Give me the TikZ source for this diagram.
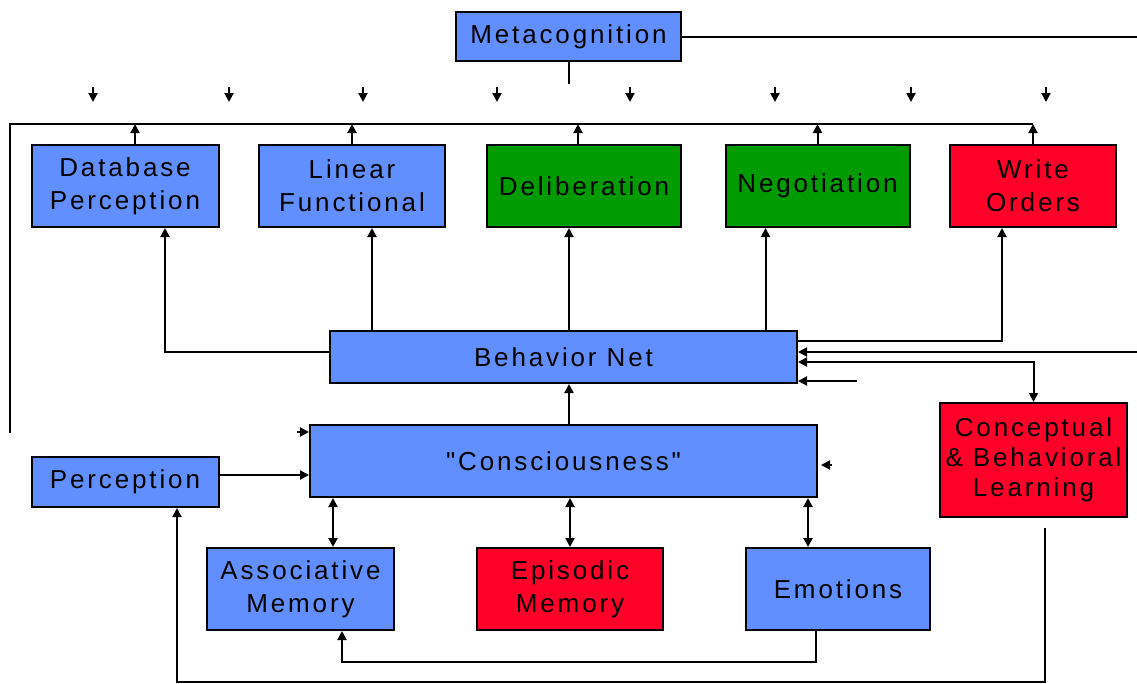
\documentclass[tikz,border=0pt]{standalone}
\usepackage{fontspec}
\setmainfont{Liberation Sans}[LetterSpace=11,Ligatures=TeXOff]
\usetikzlibrary{arrows.meta, positioning, calc}
\definecolor{BoxBlue}{RGB}{98,143,255}
\definecolor{BoxGreen}{RGB}{0,155,0}
\definecolor{BoxRed}{RGB}{255,0,40}
\tikzset{
  >={Triangle[length=9pt,width=9pt]},
  % Riquadri
  box/.style={draw=black,line width=2pt,inner sep=0pt,align=center,font=\fontsize{26}{33}\selectfont},
  box blue/.style={box,fill=BoxBlue},
  box green/.style={box,fill=BoxGreen},
  box red/.style={box,fill=BoxRed},
  % Connessioni
  connect/.style={line width=2pt,black},
  connect arrow/.style={->,connect},
  connect both/.style={<->,connect}
}
\begin{document}
\begin{tikzpicture}[x=1pt,y=-1pt]
    \useasboundingbox (0,0) rectangle (1137,683);
    % nodi
    \node[box blue,minimum width=225pt,minimum height=49pt] (meta) at (568.5,36.5) {Metacognition};
    \node[box blue,minimum width=187pt,minimum height=82pt] (dbp) at (125,186) {Database\\Perception};
    \node[box blue,minimum width=186pt,minimum height=82pt] (linf) at (352,186) {Linear\\Functional};
    \node[box green,minimum width=194pt,minimum height=82pt] (delib) at (584,186) {Deliberation};
    \node[box green,minimum width=184pt,minimum height=82pt] (nego) at (817.5,186) {Negotiation};
    \node[box red,minimum width=166pt,minimum height=82pt] (write) at (1033,186) {Write\\Orders};
    \node[box blue,minimum width=467pt,minimum height=52pt] (bnet) at (563.5,357) {Behavior Net};
    \node[box blue,minimum width=507pt,minimum height=72pt] (consc) at (563.5,461) {"Consciousness"};
    \node[box blue,minimum width=187pt,minimum height=50pt] (perc) at (125,482) {Perception};
    \node[box red,minimum width=187pt,minimum height=114pt,font=\fontsize{26}{30}\selectfont] (learn) at (1033.5,460) {Conceptual\\\& Behavioral\\Learning};
    \node[box blue,minimum width=187pt,minimum height=82pt] (assoc) at (300.5,589) {Associative\\Memory};
    \node[box red,minimum width=186pt,minimum height=82pt] (episod) at (570,589) {Episodic\\Memory};
    \node[box blue,minimum width=184pt,minimum height=82pt] (emot) at (838,589) {Emotions};
    % punti liberi
    \coordinate (rimR) at (1137,352);
    \coordinate (busL) at (10,124);
    \coordinate (busEnd) at (10,433);
    \coordinate (bnIn) at (857,381);
    % metacognizione
    \draw[connect] (meta.east) -- (meta.east -| rimR);
    \draw[connect] (meta.south) -- ++(0,22);
    \foreach \x in {93,229,363,497,630,775,911,1046}
      \draw[connect arrow] (\x,87) -- (\x,102);
    % bus superiore
    \draw[connect] (busEnd) -- (busL) -- (busL -| write.north);
    \foreach \n/\s in {dbp/10,linf/0,delib/-6,nego/0,write/0}{
      \coordinate (up-\n) at ([xshift=\s pt]\n.north);
      \draw[connect arrow] (up-\n) -- (up-\n |- busL);
    }
    % rete comportamentale verso i moduli
    \coordinate (dn-dbp) at ([xshift=40pt]dbp.south);
    \coordinate (dn-linf) at ([xshift=20pt]linf.south);
    \coordinate (dn-delib) at ([xshift=-15pt]delib.south);
    \coordinate (dn-nego) at ([xshift=-52pt]nego.south);
    \coordinate (dn-write) at ([xshift=-31pt]write.south);
    \draw[connect arrow] ([yshift=5pt]bnet.west) -| (dn-dbp);
    \draw[connect arrow] (dn-linf |- bnet.north) -- (dn-linf);
    \draw[connect arrow] (dn-delib |- bnet.north) -- (dn-delib);
    \draw[connect arrow] (dn-nego |- bnet.north) -- (dn-nego);
    \draw[connect arrow] ([yshift=16pt]bnet.east) -| (dn-write);
    % ingressi a destra
    \draw[connect arrow] (rimR) -- (rimR -| bnet.east);
    \draw[connect both] ([yshift=-5pt]bnet.east) -| (learn.north);
    \draw[connect arrow] (bnIn) -- (bnIn -| bnet.east);
    % coscienza
    \draw[connect arrow] ([xshift=5.5pt]consc.north) -- ([xshift=5.5pt]bnet.south);
    \coordinate (pe) at ([yshift=7pt]perc.east);
    \draw[connect arrow] (pe) -- (pe -| consc.west);
    \draw[connect arrow] ([xshift=-12pt,yshift=-8pt]consc.north west) -- ([yshift=-8pt]consc.north west);
    \draw[connect arrow] ([xshift=14pt,yshift=-4pt]consc.east) -- ([xshift=3pt,yshift=-4pt]consc.east);
    % memorie
    \draw[connect both] ([xshift=32.5pt]assoc.north |- consc.south) -- ([xshift=32.5pt]assoc.north);
    \draw[connect both] (episod.north |- consc.south) -- (episod.north);
    \draw[connect both] ([xshift=-30pt]emot.north |- consc.south) -- ([xshift=-30pt]emot.north);
    % anelli inferiori
    \draw[connect arrow] ([xshift=-22pt]emot.south) -- ++(0,31) -| ([xshift=41.5pt]assoc.south);
    \draw[connect arrow] ([xshift=11.5pt,yshift=-10pt]learn.south) -- ++(0,154) -| ([xshift=52pt]perc.south);
\end{tikzpicture}
\end{document}
